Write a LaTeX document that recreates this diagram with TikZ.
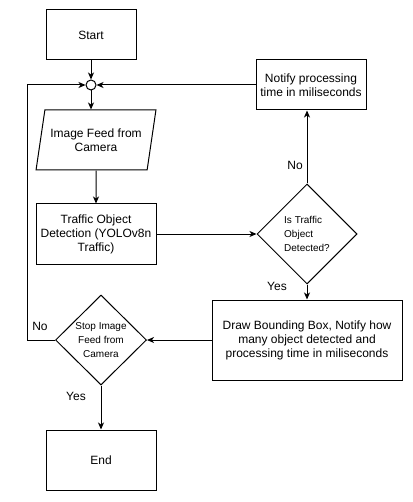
\documentclass[tikz,border=0pt]{standalone}
\usepackage{fontspec}
\setmainfont{Liberation Sans}
\usetikzlibrary{arrows.meta,positioning,shapes.geometric}

\begin{document}
\begin{tikzpicture}[
  x=1pt, y=-1pt,
  line width=1pt,
  font=\fontsize{12}{14}\selectfont,
  box/.style={draw, align=center, inner sep=2pt},
  data/.style={draw, trapezium, trapezium left angle=72, trapezium right angle=108, trapezium stretches=true, minimum width=120pt, minimum height=60pt, align=center, inner sep=1pt},
  dec/.style={draw, diamond, aspect=1, inner sep=0pt, font=\fontsize{10}{14}\selectfont},
  junc/.style={draw, circle, minimum size=10pt, inner sep=0pt},
  lbl/.style={inner sep=0pt},
  arr/.style={-{Stealth[length=7pt, width=6pt, inset=2pt]}}
]
\useasboundingbox (0,0) rectangle (412,502);
\node[box, minimum width=90pt, minimum height=50pt] (start) at (91,35) {Start};
\node[junc] (join) at (91,85) {};
\node[box, minimum width=110pt, minimum height=50pt] (notify) at (311,85) {Notify processing\\time in miliseconds};
\node[data] (feed) at (96,140) {Image Feed from\\Camera};
\node[box, minimum width=120pt, minimum height=60pt] (detect) at (96,234) {Traffic Object\\Detection (YOLOv8n\\Traffic)};
\node[dec, align=left, minimum width=100pt, minimum height=100pt] (isdet) at (307,234) {Is Traffic\\Object\\Detected?};
\node[box, minimum width=190pt, minimum height=80pt] (drawbox) at (307,340) {Draw Bounding Box, Notify how\\many object detected and\\processing time in miliseconds};
\node[dec, align=center, minimum width=91pt, minimum height=90pt] (stop) at (101,340) {Stop Image\\Feed from\\Camera};
\node[box, minimum width=110pt, minimum height=60pt] (end) at (101,460) {End};
\coordinate (back) at (27,340);
% labels
\node[lbl] (no1) at (295,165) {No};
\node[lbl] (yes1) at (277,286) {Yes};
\node[lbl] (no2) at (40,326) {No};
\node[lbl] (yes2) at (76,396) {Yes};
% connectors
\draw[arr] (start) -- (join);
\draw[arr] (notify) -- (join);
\draw[arr] (join) -- (join |- feed.north);
\draw[arr] (feed) -- (detect);
\draw[arr] (detect) -- (isdet);
\draw[arr] (isdet) -- (isdet |- notify.south);
\draw[arr] (isdet) -- (drawbox);
\draw[arr] (drawbox) -- (stop);
\draw[arr] (stop) -- (back) |- (join);
\draw[arr] (stop) -- (end);
\end{tikzpicture}
\end{document}
